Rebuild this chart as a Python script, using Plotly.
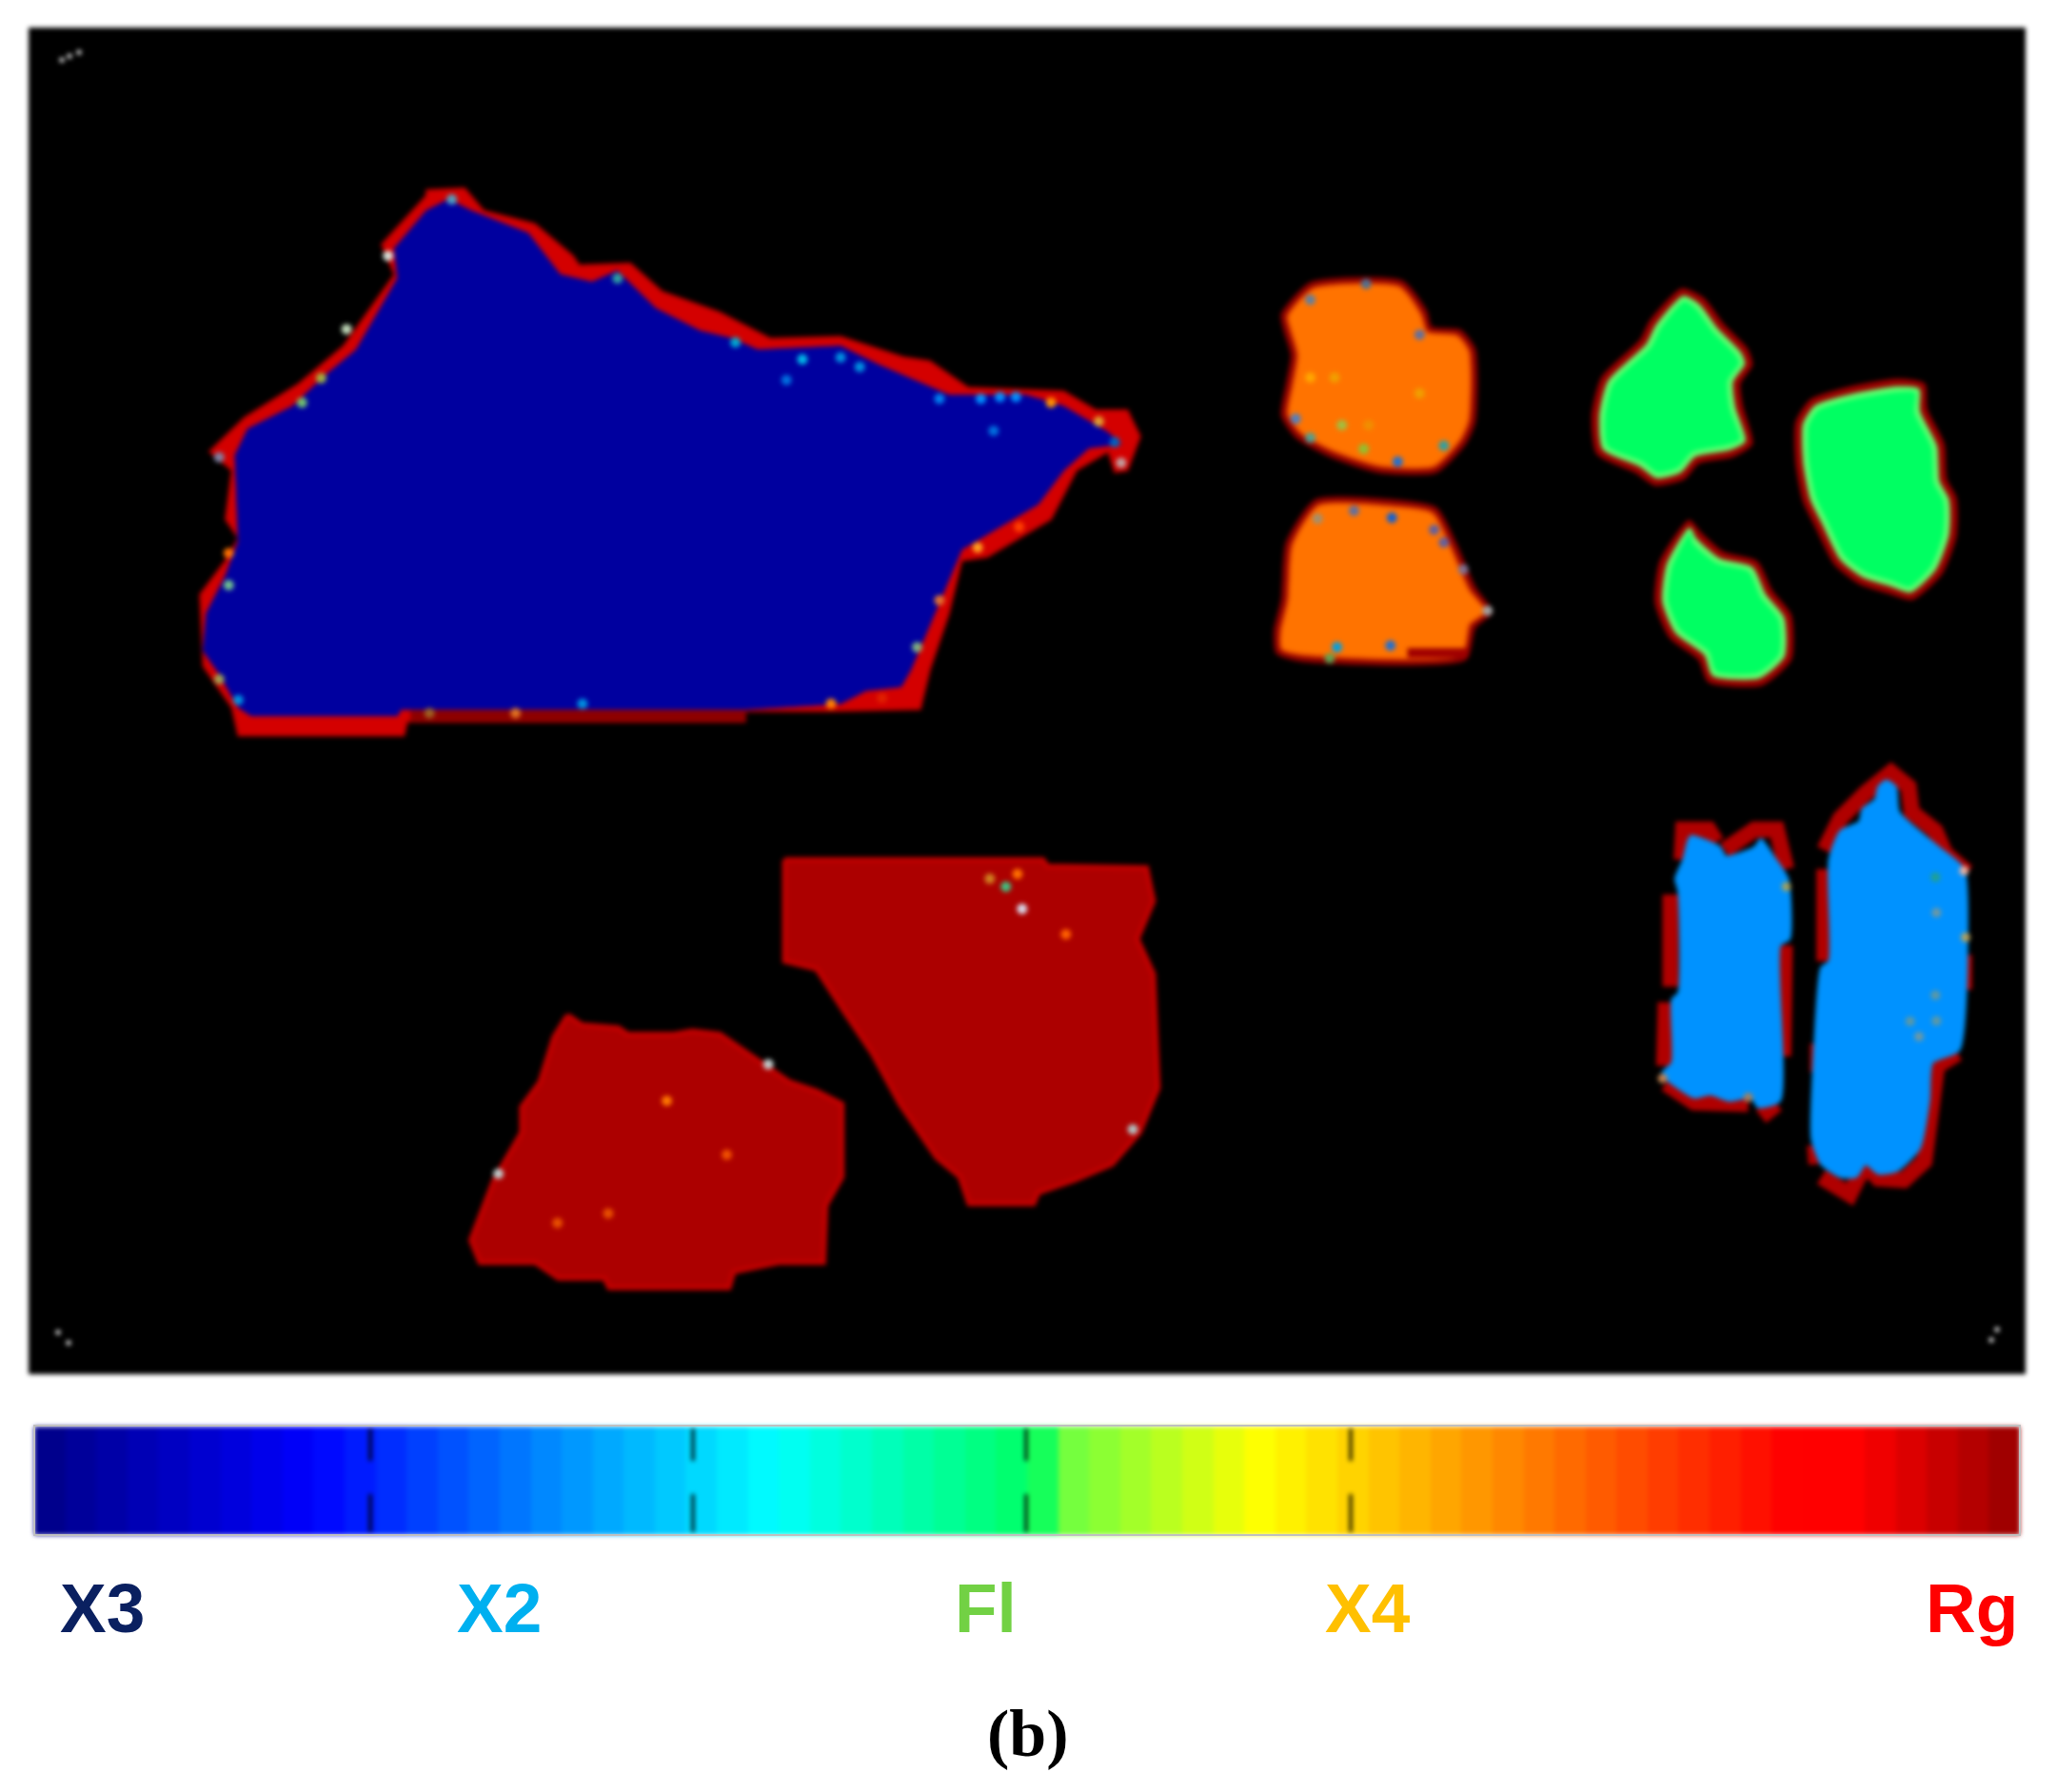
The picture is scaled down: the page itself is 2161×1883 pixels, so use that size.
import numpy as np
import plotly.graph_objects as go

# ---------- map panel extents (image units) ----------
PANEL_X = [30, 2128]
PANEL_Y = [29, 1444]

# ---------- grain outlines, read per zoomed crop ----------
BIG_OUTER_Z = [(400,75),(460,70),(490,130),(570,165),(630,250),(640,275),(720,270),(770,345),(860,400),(940,470),(1050,465),(1150,520),(1190,530),(1250,600),(1400,610),(1450,660),(1500,660),(1520,730),(1500,820),(1480,825),(1470,770),(1420,820),(1380,950),(1280,1050),(1240,1060),(1220,1200),(1190,1350),(1175,1455),(1030,1460),(900,1460),(900,1488),(370,1488),(365,1525),(105,1525),(95,1450),(50,1340),(45,1150),(85,1060),(105,1000),(85,950),(95,820),(60,770),(115,680),(200,590),(270,490),(350,300),(330,220),(400,90)]
BIG_CORE_Z = [(435,100),(470,130),(560,190),(610,300),(660,320),(700,290),(760,390),(830,450),(880,470),(920,500),(1050,490),(1110,540),(1220,620),(1340,620),(1400,650),(1470,720),(1490,750),(1440,760),(1400,820),(1360,910),(1290,980),(1240,1030),(1205,1170),(1160,1350),(1145,1395),(1090,1405),(1050,1440),(900,1455),(360,1455),(355,1472),(125,1472),(105,1450),(75,1360),(50,1300),(55,1200),(85,1100),(105,1010),(100,780),(120,710),(190,650),(240,570),(290,500),(355,310),(350,230),(400,130)]
BIG_BASE_Z = [(375,1472),(900,1472)]
BIG_SPECK = [(340,250,'#d8e0d8'),(275,445,'#c0d8b8'),(205,640,'#70c070'),(235,575,'#a0b040'),(440,100,'#50a0c0'),(700,310,'#30a0a0'),(885,480,'#00a8d0'),(990,525,'#00b8e8'),(1050,520,'#0090e0'),(1080,545,'#0090e0'),(965,580,'#0070e0'),(1205,630,'#0080f0'),(1270,630,'#0090ff'),(1300,625,'#0090ff'),(1325,625,'#0090ff'),(1290,715,'#0070e0'),(1380,640,'#ff9000'),(1455,690,'#e0a030'),(1490,800,'#c0a0a0'),(1480,745,'#0060c0'),(90,1040,'#ff7000'),(90,1125,'#70c090'),(75,1375,'#a0a050'),(105,1430,'#0090e0'),(645,1440,'#0090e0'),(405,1465,'#a06020'),(540,1465,'#e07020'),(1035,1440,'#ff8000'),(1265,1025,'#ffa020'),(1205,1165,'#e07030'),(1170,1290,'#80b080'),(1115,1425,'#e02000'),(75,785,'#8080a0'),(1330,970,'#ff4000')]

ORANGE_TOP_Z = [(150,80),(340,75),(390,170),(400,220),(460,230),(490,290),(490,520),(470,590),(410,680),(290,680),(190,630),(120,570),(90,500),(100,400),(110,310),(95,230),(90,180)]
ORANGE_BOT_Z = [(160,765),(320,765),(410,790),(450,900),(490,1040),(525,1120),(490,1170),(470,1270),(130,1275),(80,1250),(75,1180),(90,1080),(100,900)]
ORANGE_BOT_SHADE_Z = [(350,1248),(475,1248)]
GREEN_A_Z = [(915,100),(960,130),(1000,210),(1050,290),(1060,340),(1035,400),(1040,470),(1060,590),(1020,630),(950,650),(920,700),(860,720),(820,680),(740,620),(730,500),(750,380),(830,260),(850,200)]
GREEN_B_Z = [(1360,385),(1415,400),(1420,480),(1455,590),(1460,700),(1480,760),(1480,880),(1450,1000),(1390,1080),(1340,1060),(1280,1030),(1230,970),(1190,850),(1165,770),(1150,650),(1150,520),(1180,450),(1260,410)]
GREEN_C_Z = [(930,830),(955,870),(1000,930),(1070,960),(1100,1050),(1140,1130),(1140,1270),(1080,1350),(970,1340),(950,1270),(890,1200),(860,1090),(870,960)]
ORANGE_SPECK = [(150,380,'#ffa800'),(200,380,'#f0a000'),(375,430,'#f0a000'),(215,530,'#a0c040'),(270,530,'#f09000'),(260,605,'#90c030'),(330,645,'#2070d0'),(425,595,'#30a0a0'),(150,570,'#50a090'),(120,510,'#5080c0'),(150,135,'#6080a0'),(265,85,'#507090'),(375,245,'#6070a0'),(165,825,'#a09070'),(240,800,'#6070a0'),(318,822,'#1060d0'),(405,860,'#6060a0'),(425,900,'#6060a0'),(465,985,'#807090'),(515,1115,'#a0a0a0'),(205,1230,'#00a0e0'),(315,1225,'#2070d0'),(190,1265,'#60a050')]

LB_A_Z = [(230,265),(320,300),(340,330),(430,300),(450,275),(490,330),(535,400),(540,590),(510,610),(510,1100),(440,1120),(420,1090),(350,1100),(290,1080),(240,1090),(150,1030),(140,1010),(170,980),(170,780),(190,760),(190,440),(180,400),(205,340),(220,280)]
LB_B_Z = [(845,90),(875,110),(885,190),(1010,300),(1090,370),(1100,600),(1075,940),(990,980),(980,1100),(950,1250),(880,1320),(820,1330),(780,1300),(750,1340),(700,1340),(640,1300),(610,1220),(615,1000),(640,680),(665,660),(665,340),(700,250),(760,220),(770,180),(810,150),(820,110)]
LB_RED_Z = [
    [(200,340),(205,245),(285,245),(310,285)],
    [(335,310),(430,245),(500,245),(530,370)],
    [(165,450),(165,740)],
    [(150,790),(145,990)],
    [(525,610),(520,960)],
    [(150,1045),(240,1105),(410,1110)],
    [(450,1150),(500,1110)],
    [(650,310),(700,210),(780,130),(860,65),(915,110),(925,190),(1000,250),(1030,320),(1100,380)],
    [(650,370),(650,660)],
    [(630,920),(630,1010)],
    [(620,1240),(625,1300)],
    [(640,1340),(730,1395),(760,1335),(790,1310),(820,1345),(900,1350),(965,1290),(985,1100),(1005,990),(1070,950)],
    [(1090,640),(1090,750)],
]
LB_SPECK = [(1000,395,'#20a090'),(1003,507,'#7098a0'),(1000,767,'#6098a0'),(1003,848,'#6098a0'),(920,850,'#6098a0'),(948,898,'#7098a0'),(1090,375,'#e8b0a0'),(1095,585,'#b0a060'),(530,425,'#a0a060'),(140,1030,'#c08050'),(410,1090,'#a08060')]

RED_A_Z = [(240,530),(270,560),(350,570),(370,590),(470,590),(510,580),(570,590),(650,670),(720,740),(780,770),(835,810),(835,1040),(800,1130),(795,1310),(700,1310),(600,1340),(590,1390),(330,1390),(320,1360),(220,1360),(170,1310),(50,1310),(30,1240),(80,1050),(140,900),(140,820),(180,740),(210,600)]
RED_B_Z = [(710,40),(1270,40),(1280,60),(1495,65),(1510,170),(1475,290),(1510,400),(1520,760),(1480,900),(1420,1000),(1340,1050),(1260,1090),(1250,1125),(1110,1125),(1090,1040),(1040,980),(960,810),(900,650),(840,520),(780,385),(710,360)]
RED_SPECK = [(1190,125,'#40c080'),(1155,100,'#d08020'),(1215,85,'#ff7000'),(1225,195,'#d8d8e8'),(1320,275,'#ff6000'),(1465,890,'#b0c0c0'),(675,685,'#c0c8c8'),(90,1030,'#c0c8c8'),(455,800,'#ff7800'),(585,970,'#f05000'),(328,1155,'#e85000'),(218,1185,'#e85000')]

FIDUCIAL_X = [65, 73, 83, 61, 72, 2092, 2098]
FIDUCIAL_Y = [63, 59, 55, 1400, 1411, 1408, 1397]

# ---------- colour scale bar ----------
BAND_LEVELS = list(range(64))
BAR_STOPS = [(0,'#00008c'),(0.135,'#0000ff'),(0.25,'#0084ff'),(0.37,'#00ffff'),(0.505,'#00ff60'),(0.52,'#70ff40'),(0.62,'#ffff00'),(0.89,'#ff0000'),(0.925,'#ff0000'),(1,'#a00000')]
BAR_TICKS = [389, 728, 1078, 1419]
BAR_LABELS = ['X3', 'X2', 'Fl', 'X4', 'Rg']
BAR_LABEL_X = [107, 524, 1035, 1437, 2071]
BAR_LABEL_COLORS = ['#0a2060', '#00b0f0', '#72d144', '#ffc000', '#ff0000']
CAPTION = '(b)'

# ---------- crop frames: map zoom readings into image units ----------
def frame(pts, x0, y0, sx, sy):
    a = np.array(pts, float)
    return x0 + a[:, 0] * sx, y0 + a[:, 1] * sy

F_BIG = (180, 170, 1050/1568, 620/1568)
F_TR = (1300, 270, 800/1568, 1/3)
F_LB = (1700, 790, 1/3, 1/3)
F_RD = (480, 890, 760/1568, 1/3)

def inset(x, y, d):
    """Move a closed outline inward by d."""
    area = 0.5*np.sum(x*np.roll(y, -1) - np.roll(x, -1)*y)
    dx1, dy1 = x-np.roll(x, 1), y-np.roll(y, 1)
    dx2, dy2 = np.roll(x, -1)-x, np.roll(y, -1)-y
    l1, l2 = np.hypot(dx1, dy1), np.hypot(dx2, dy2)
    nx = -(dy1/l1+dy2/l2)
    ny = (dx1/l1+dx2/l2)
    n = np.hypot(nx, ny)+1e-9
    s = 1 if area > 0 else -1
    return x + s*d*nx/n, y + s*d*ny/n

fig = go.Figure()

def closed(x, y):
    return list(x)+[x[0]], list(y)+[y[0]]

def area_trace(x, y, fill, line_color, width, smooth=0.6):
    cx, cy = closed(x, y)
    line = dict(color=line_color, width=width)
    if smooth:
        line.update(shape='spline', smoothing=smooth)
    fig.add_trace(go.Scatter(x=cx, y=cy, mode='lines', fill='toself', fillcolor=fill, line=line,
                             hoverinfo='skip', showlegend=False))

def strip(pts, fr, color, width):
    x, y = frame(pts, *fr)
    fig.add_trace(go.Scatter(x=x, y=y, mode='lines', line=dict(color=color, width=width),
                             hoverinfo='skip', showlegend=False))

def grain(pts, fr, fill, edges):
    """edges: (colour, width) rings from the outside in; the outline holds the outer limit."""
    x, y = frame(pts, *fr)
    area_trace(x, y, edges[0][0], edges[0][0], 1)
    depth = 0
    for i, (c, w) in enumerate(edges):
        depth += w
        ix, iy = inset(x, y, depth)
        color = edges[i+1][0] if i+1 < len(edges) else fill
        area_trace(ix, iy, color, color, 1)

def specks(items, fr, size):
    a = [(p[0], p[1]) for p in items]
    x, y = frame(a, *fr)
    fig.add_trace(go.Scatter(x=x, y=y, mode='markers',
                             marker=dict(color=[p[2] for p in items], size=size, line_width=0),
                             hoverinfo='skip', showlegend=False))

# big dark-blue grain
bx, by = frame(BIG_OUTER_Z, *F_BIG)
area_trace(bx, by, '#d40000', '#b00000', 2, 0)
strip(BIG_BASE_Z, F_BIG, '#8c0000', 11)
cx, cy = frame(BIG_CORE_Z, *F_BIG)
area_trace(cx, cy, '#00009f', '#00009f', 1, 0)
specks(BIG_SPECK, F_BIG, 11)

# orange grains
for g in (ORANGE_TOP_Z, ORANGE_BOT_Z):
    grain(g, F_TR, '#ff7300', [('#8a0000', 6), ('#e04000', 3)])
strip(ORANGE_BOT_SHADE_Z, F_TR, '#a00000', 10)
specks(ORANGE_SPECK, F_TR, 11)

# green grains
for g in (GREEN_A_Z, GREEN_B_Z, GREEN_C_Z):
    grain(g, F_TR, '#00ff62', [('#9a0000', 8), ('#60ff70', 6)])

# light-blue grains: partial red rim below the core
for seg in LB_RED_Z:
    strip(seg, F_LB, '#b00000', 17)
for g in (LB_A_Z, LB_B_Z):
    x, y = frame(g, *F_LB)
    area_trace(x, y, '#0092ff', '#0090f0', 2)
specks(LB_SPECK, F_LB, 10)

# dark-red grains
for g in (RED_A_Z, RED_B_Z):
    x, y = frame(g, *F_RD)
    area_trace(x, y, '#ac0000', '#c40000', 5, 0)
specks(RED_SPECK, F_RD, 11)

# corner marks
fig.add_trace(go.Scatter(x=FIDUCIAL_X, y=FIDUCIAL_Y, mode='markers',
                         marker=dict(color='#ffffff', size=5), hoverinfo='skip', showlegend=False))

# colour bar: 64 flat bands
bar_x0, bar_x1 = 36, 2122
fig.add_trace(go.Heatmap(z=[BAND_LEVELS], x0=bar_x0+(bar_x1-bar_x0)/128, dx=(bar_x1-bar_x0)/64,
                         y0=1556, dy=114, colorscale=[[s, c] for s, c in BAR_STOPS],
                         zmin=0, zmax=63, showscale=False, hoverinfo='skip', zsmooth=False))
tick_x, tick_y = [], []
for t in BAR_TICKS:
    tick_x += [t, t, None, t, t, None]
    tick_y += [1501, 1535, None, 1570, 1610, None]
fig.add_trace(go.Scatter(x=tick_x, y=tick_y, mode='lines', line=dict(color='#000000', width=3),
                         hoverinfo='skip', showlegend=False))

annots = [dict(x=x, y=1689, text=f'<b>{t}</b>', showarrow=False, xanchor='center', yanchor='middle',
               font=dict(family='Liberation Sans', size=73, color=c))
          for t, x, c in zip(BAR_LABELS, BAR_LABEL_X, BAR_LABEL_COLORS)]
annots.append(dict(x=1080, y=1821, text=f'<b>{CAPTION}</b>', showarrow=False, xanchor='center', yanchor='middle',
                   font=dict(family='Liberation Serif', size=70, color='#000000')))

fig.update_layout(
    width=2161, height=1883, autosize=False,
    margin=dict(l=0, r=0, t=0, b=0), paper_bgcolor='white', plot_bgcolor='white',
    xaxis=dict(range=[0, 2161], visible=False, fixedrange=True),
    yaxis=dict(range=[1883, 0], visible=False, fixedrange=True),
    showlegend=False, annotations=annots,
    shapes=[
        dict(type='rect', layer='below', x0=PANEL_X[0], x1=PANEL_X[1], y0=PANEL_Y[0], y1=PANEL_Y[1],
             fillcolor='black', line_width=0),
        dict(type='rect', layer='above', x0=bar_x0, x1=bar_x1, y0=1498, y1=1613,
             line=dict(color='#c0c0c0', width=2), fillcolor='rgba(0,0,0,0)'),
    ],
)
POST = """
document.body.style.margin = '0';
document.querySelectorAll('.cartesianlayer').forEach(function (g) { g.style.filter = 'blur(2.5px)'; });
"""
fig.write_html('out.html', config={'displayModeBar': False}, post_script=POST)
